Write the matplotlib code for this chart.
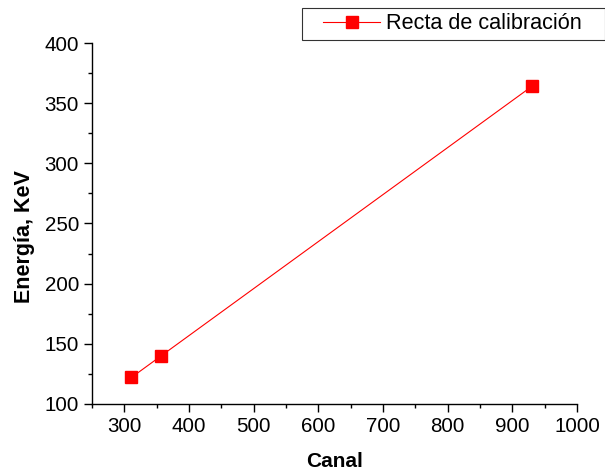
import matplotlib.pyplot as plt
from matplotlib.ticker import MultipleLocator
from matplotlib.legend_handler import HandlerLine2D

plt.rcParams['font.family'] = ['Liberation Sans', 'DejaVu Sans']

# datos de la calibracion (canal vs energia)
canal = [311, 357, 930]
energia = [122, 140, 364]

fig = plt.figure(figsize=(6.05, 4.73), dpi=100)
ax = fig.add_axes([0.152, 0.146, 0.802, 0.763])

linea, = ax.plot(canal, energia, color='red', linewidth=0.8, marker='s', markersize=8.8,
                 markeredgecolor='red', markerfacecolor='red', label='Recta de calibración')

ax.set_xlim(250, 1000)
ax.set_ylim(100, 400)
ax.xaxis.set_major_locator(MultipleLocator(100))
ax.xaxis.set_minor_locator(MultipleLocator(50))
ax.yaxis.set_major_locator(MultipleLocator(50))
ax.yaxis.set_minor_locator(MultipleLocator(25))

ax.spines['top'].set_visible(False)
ax.spines['right'].set_visible(False)
for s in ['left', 'bottom']:
    ax.spines[s].set_linewidth(1.0)
ax.tick_params(which='major', direction='out', length=5.8, width=1.0, labelsize=14.8)
ax.tick_params(which='minor', direction='out', length=3.2, width=1.0)

ax.set_xlabel('Canal', fontsize=15, fontweight='bold', labelpad=11.5)
ax.set_ylabel('Energía, KeV', fontsize=15.5, fontweight='bold')
ax.yaxis.set_label_coords(-0.117, 0.465)

leg = fig.legend([linea], ['Recta de calibración   '], loc='upper right',
                 bbox_to_anchor=(1.0, 0.983), fontsize=15.6,
                 frameon=True, fancybox=False, edgecolor='black', handlelength=3.36,
                 handletextpad=0.28, borderpad=0.25, borderaxespad=0.0,
                 handler_map={linea: HandlerLine2D(xpad=0.76)})
leg.get_frame().set_linewidth(0.8)

fig.savefig('out.png', dpi=100)
